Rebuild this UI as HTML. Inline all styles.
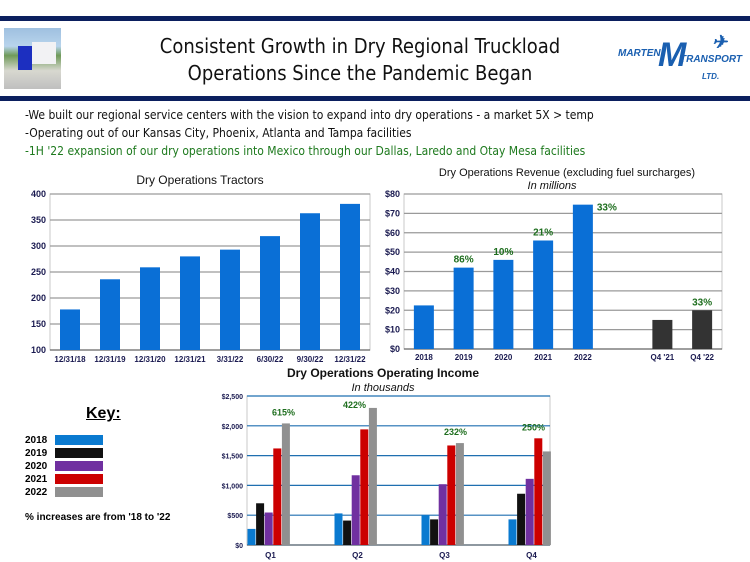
<!DOCTYPE html>
<html><head><meta charset="utf-8"><style>
body{margin:0;width:750px;height:562px;background:#fff;position:relative;overflow:hidden;font-family:"Liberation Sans",sans-serif}
.abs{position:absolute}
.title{left:130px;width:460px;top:33px;text-align:center;font-size:20px;line-height:27px;color:#111;font-family:"DejaVu Sans Condensed","Liberation Sans Narrow","Liberation Sans",sans-serif}
.bul{left:25px;font-size:12px;color:#111;font-family:"DejaVu Sans Condensed","Liberation Sans Narrow","Liberation Sans",sans-serif;white-space:nowrap}
</style></head><body>
<div class="abs" style="left:0;top:16px;width:750px;height:5px;background:#0b1f5e"></div>
<div class="abs" style="left:0;top:96px;width:750px;height:5px;background:#0b1f5e"></div>
<div class="abs" style="left:4px;top:28px;width:57px;height:61px;background:linear-gradient(#9fc0e0 0%,#b8d4ec 30%,#6f9a58 45%,#d8d8d0 70%,#bfbfbf 100%)">
<div class="abs" style="left:14px;top:18px;width:14px;height:24px;background:#1c2fc0"></div>
<div class="abs" style="left:28px;top:14px;width:24px;height:22px;background:#f2f2f4"></div></div>
<div class="abs title">Consistent Growth in Dry Regional Truckload<br>Operations Since the Pandemic Began</div>
<div class="abs" style="left:618px;top:36px;width:122px;height:52px;color:#1a5fb0;font-weight:bold;font-style:italic;font-size:10px">
<span class="abs" style="left:0;top:12px">MARTEN</span><span class="abs" style="left:40px;top:0;font-size:34px">M</span><span class="abs" style="left:62px;top:18px">TRANSPORT</span><span class="abs" style="left:84px;top:36px;font-size:8px">LTD.</span><span class="abs" style="left:94px;top:-4px;font-size:18px">✈</span></div>
<div class="abs bul" style="top:108px">-We built our regional service centers with the vision to expand into dry operations - a market 5X &gt; temp</div>
<div class="abs bul" style="top:126px">-Operating out of our Kansas City, Phoenix, Atlanta and Tampa facilities</div>
<div class="abs bul" style="top:144px;color:#1e7a1e">-1H '22 expansion of our dry operations into Mexico through our Dallas, Laredo and Otay Mesa facilities</div>

<div class="abs" style="left:86px;top:405px;font-size:16px;font-weight:bold;text-decoration:underline">Key:</div>
<div class="abs" style="left:25px;top:434px;font-size:10px;font-weight:bold;line-height:13px">
<div>2018<span class="abs" style="left:30px;top:1px;width:48px;height:10px;background:#0a7ad0"></span></div>
<div>2019<span class="abs" style="left:30px;top:14px;width:48px;height:10px;background:#111"></span></div>
<div>2020<span class="abs" style="left:30px;top:27px;width:48px;height:10px;background:#7030a0"></span></div>
<div>2021<span class="abs" style="left:30px;top:40px;width:48px;height:10px;background:#cc0000"></span></div>
<div>2022<span class="abs" style="left:30px;top:53px;width:48px;height:10px;background:#909090"></span></div>
</div>
<div class="abs" style="left:25px;top:512px;font-size:10px;font-weight:bold">% increases are from '18 to '22</div>

<svg class="abs" id="svg" style="left:0;top:0" width="750" height="562"></svg>
<script>
const tractorCats=["12/31/18","12/31/19","12/31/20","12/31/21","3/31/22","6/30/22","9/30/22","12/31/22"];
const tractorVals=[178,236,259,280,293,319,363,381];
const tractorTicks=[100,150,200,250,300,350,400];
const revCats=["2018","2019","2020","2021","2022","","Q4 '21","Q4 '22"];
const revVals=[22.5,42,46,56,74.5,null,15,20];
const revLabels=["","86%","10%","21%","33%","","","33%"];
const revTicks=[0,10,20,30,40,50,60,70,80];
const incCats=["Q1","Q2","Q3","Q4"];
const inc2018=[270,530,500,430];
const inc2019=[700,410,430,860];
const inc2020=[545,1170,1020,1110];
const inc2021=[1620,1940,1670,1790];
const inc2022=[2040,2300,1710,1570];
const incLabels=["615%","422%","232%","250%"];
const incTicks=[0,500,1000,1500,2000,2500];

const svg=document.getElementById('svg');const NS='http://www.w3.org/2000/svg';
function el(t,a,txt){const e=document.createElementNS(NS,t);for(const k in a)e.setAttribute(k,a[k]);if(txt!=null)e.textContent=txt;svg.appendChild(e);return e;}
function frame(x0,x1,y0,y1,ticks,min,max,fmt,gridCol,name,fs){
 const y=v=>y1-(v-min)/(max-min)*(y1-y0);
 const f=el('rect',{x:x0,y:y0,width:x1-x0,height:y1-y0,fill:'none',stroke:'#c8c8c8'});
 
 ticks.forEach(t=>{const g=el('line',{x1:x0,x2:x1,y1:y(t),y2:y(t),stroke:gridCol,'stroke-width':1.2});
  
  const l=el('text',{x:x0-4,y:y(t)+3,'text-anchor':'end','font-size':fs,'font-weight':'bold',fill:'#1a1a50'},fmt(t));
  });
 const a=el('line',{x1:x0,x2:x1,y1:y1,y2:y1,stroke:'#555'});
 return y;}
function txt(x,yy,s,o,name){const t=el('text',Object.assign({x:x,y:yy,'text-anchor':'middle'},o),s);return t;}
// Tractors
(function(){const x0=50,x1=370,y0=194,y1=350;const y=frame(x0,x1,y0,y1,tractorTicks,100,400,v=>v,'#9a9a9a','tractors',9);
 const w=(x1-x0)/tractorCats.length;
 tractorVals.forEach((v,i)=>{const cx=x0+w*(i+0.5);const b=el('rect',{x:cx-10,y:y(v),width:20,height:y1-y(v),fill:'#0a6fd6'});
  
  txt(cx,362,tractorCats[i],{'font-size':8,'font-weight':'bold',fill:'#1a1a50'},'tractors-x-tick');});
 txt(200,184,'Dry Operations Tractors',{'font-size':12,fill:'#111'},'tractors-title');})();
// Revenue
(function(){const x0=404,x1=722,y0=194,y1=349;const y=frame(x0,x1,y0,y1,revTicks,0,80,v=>'$'+v,'#9a9a9a','revenue',9);
 const w=(x1-x0)/revCats.length;
 revVals.forEach((v,i)=>{const cx=x0+w*(i+0.5);
  txt(cx,360,revCats[i],{'font-size':8,'font-weight':'bold',fill:'#1a1a50'},'revenue-x-tick');
  if(v==null)return;const b=el('rect',{x:cx-10,y:y(v),width:20,height:y1-y(v),fill:i>5?'#333':'#0a6fd6'});
  
  if(revLabels[i]){const right=i==4;txt(right?cx+24:cx,right?y(v)+6:y(v)-5,revLabels[i],{'font-size':10,'font-weight':'bold',fill:'#1e6e1e'},'revenue-growth-label');}});
 txt(567,176,'Dry Operations Revenue (excluding fuel surcharges)',{'font-size':11,fill:'#111'},'revenue-title');
 txt(552,189,'In millions',{'font-size':11,'font-style':'italic',fill:'#111'},'revenue-subtitle');})();
// Income
(function(){const x0=247,x1=550,y0=396,y1=545;const y=frame(x0,x1,y0,y1,incTicks,0,2500,v=>'$'+v.toLocaleString('en-US'),'#1f6fb0','income',7);
 const series=[inc2018,inc2019,inc2020,inc2021,inc2022];const cols=['#0a7ad0','#111','#7030a0','#cc0000','#909090'];
 const gw=87;
 const lblDx=[36,20,34,25];
 incCats.forEach((c,i)=>{const gx=x0+gw*i+0.5;
  series.forEach((s,j)=>{const b=el('rect',{x:gx+j*8.6,y:y(s[i]),width:8,height:y1-y(s[i]),fill:cols[j]});
   });
  txt(gx+23,558,c,{'font-size':8,'font-weight':'bold',fill:'#1a1a50'},'income-x-tick');
  const top=Math.max(inc2021[i],inc2022[i]);
  txt(gx+lblDx[i],y(top)-(i==1?0:8),incLabels[i],{'font-size':9,'font-weight':'bold',fill:'#1e6e1e'},'income-growth-label');});
 txt(383,377,'Dry Operations Operating Income',{'font-size':12,'font-weight':'bold',fill:'#111'},'income-title');
 txt(383,391,'In thousands',{'font-size':11,'font-style':'italic',fill:'#111'},'income-subtitle');})();
</script>
</body></html>
